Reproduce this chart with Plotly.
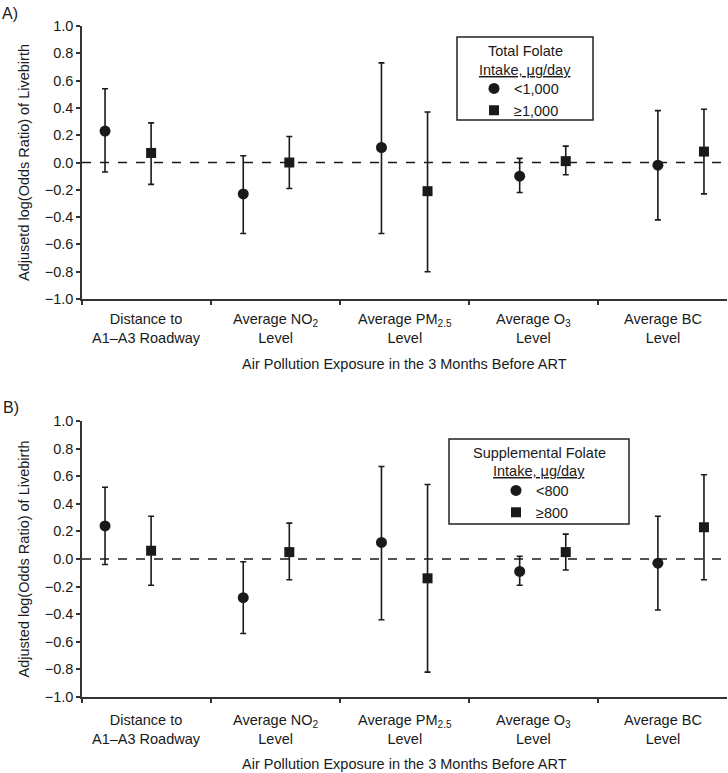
import plotly.graph_objects as go

# ---- data ----
categories = ["Distance to<br>A1–A3 Roadway", "Average NO<sub>2</sub><br>Level",
              "Average PM<sub>2.5</sub><br>Level", "Average O<sub>3</sub><br>Level",
              "Average BC<br>Level"]

# Panel A: Total folate intake
a_low_est = [0.23, -0.23, 0.11, -0.10, -0.02]
a_low_lo = [-0.07, -0.52, -0.52, -0.22, -0.42]
a_low_hi = [0.54, 0.05, 0.73, 0.03, 0.38]
a_high_est = [0.07, 0.00, -0.21, 0.01, 0.08]
a_high_lo = [-0.16, -0.19, -0.80, -0.09, -0.23]
a_high_hi = [0.29, 0.19, 0.37, 0.12, 0.39]

# Panel B: Supplemental folate intake
b_low_est = [0.24, -0.28, 0.12, -0.09, -0.03]
b_low_lo = [-0.04, -0.54, -0.44, -0.19, -0.37]
b_low_hi = [0.52, -0.02, 0.67, 0.02, 0.31]
b_high_est = [0.06, 0.05, -0.14, 0.05, 0.23]
b_high_lo = [-0.19, -0.15, -0.82, -0.08, -0.15]
b_high_hi = [0.31, 0.26, 0.54, 0.18, 0.61]

y_ticks = [-1.0, -0.8, -0.6, -0.4, -0.2, 0.0, 0.2, 0.4, 0.6, 0.8, 1.0]
x_title = "Air Pollution Exposure in the 3 Months Before ART"

# ---- layout helpers ----
n = len(categories)
x_low = [1 + 3 * i for i in range(n)]
x_high = [2 + 3 * i for i in range(n)]
x_range = [0.5, 14.5]
cat_w = (x_range[1] - x_range[0]) / n
bounds = [x_range[0] + cat_w * i for i in range(n)]
centers = [x_range[0] + cat_w * (i + 0.5) for i in range(n)]

FONT = "Liberation Sans, Arial, sans-serif"
INK = "#1a1a1a"
AX = "#333333"
FS = 14.5

W, H = 728, 773
ml, mr, mt, mb = 82, 1, 26, 76
pw = W - ml - mr
ph = H - mt - mb


def px_x(p):
    return (p - ml) / pw


def px_y(p):
    return 1 - (p - mt) / ph


def err(est, lo, hi):
    return dict(type="data", symmetric=False,
                array=[h - e for e, h in zip(est, hi)],
                arrayminus=[e - l for e, l in zip(est, lo)],
                color=INK, thickness=1.6, width=3)


fig = go.Figure()

panels = [
    ("x", "y", "legend", a_low_est, a_low_lo, a_low_hi, a_high_est, a_high_lo, a_high_hi, "<1,000", "≥1,000"),
    ("x2", "y2", "legend2", b_low_est, b_low_lo, b_low_hi, b_high_est, b_high_lo, b_high_hi, "<800", "≥800"),
]
for xa, ya, lg, le, ll, lh, he, hl, hh, n1, n2 in panels:
    fig.add_trace(go.Scatter(x=x_low, y=le, mode="markers", name=n1, legend=lg,
                             xaxis=xa, yaxis=ya,
                             marker=dict(symbol="circle", size=11, color=INK),
                             error_y=err(le, ll, lh)))
    fig.add_trace(go.Scatter(x=x_high, y=he, mode="markers", name=n2, legend=lg,
                             xaxis=xa, yaxis=ya,
                             marker=dict(symbol="square", size=10, color=INK),
                             error_y=err(he, hl, hh)))

A_dom = [px_y(299), 1.0]
B_dom = [0.0, px_y(421)]

yax_common = dict(range=[-1, 1], tickvals=y_ticks, tickformat=".1f", ticks="outside",
                  ticklen=4, tickwidth=1.5, tickcolor=AX, showline=True, linecolor=AX,
                  linewidth=1.5, showgrid=False, zeroline=False, automargin=False,
                  tickfont=dict(size=FS, color=INK, family=FONT))
xax_common = dict(range=x_range, tickvals=bounds, ticks="outside", ticklen=4,
                  tickwidth=1.5, tickcolor=AX, showticklabels=False, showline=True,
                  linecolor=AX, linewidth=1.5, showgrid=False, zeroline=False,
                  automargin=False)

leg_common = dict(xanchor="left", yanchor="top", borderwidth=0, bgcolor="rgba(0,0,0,0)",
                  font=dict(size=FS, color=INK, family=FONT))

fig.update_layout(
    width=W, height=H,
    margin=dict(l=ml, r=mr, t=mt, b=mb, autoexpand=False),
    plot_bgcolor="white", paper_bgcolor="white",
    font=dict(family=FONT, color=INK, size=FS),
    xaxis=dict(domain=[0, 1], anchor="y", **xax_common),
    yaxis=dict(domain=A_dom, anchor="x",
               title=dict(text="Adjusetd log(Odds Ratio) of Livebirth", standoff=12,
                          font=dict(size=FS, color=INK, family=FONT)),
               **yax_common),
    xaxis2=dict(domain=[0, 1], anchor="y2", **xax_common),
    yaxis2=dict(domain=B_dom, anchor="x2",
                title=dict(text="Adjusted log(Odds Ratio) of Livebirth", standoff=12,
                           font=dict(size=FS, color=INK, family=FONT)),
                **yax_common),
    legend=dict(x=px_x(474), y=px_y(72.5), **leg_common),
    legend2=dict(x=px_x(496), y=px_y(474.5), **leg_common),
    showlegend=True,
)

# zero reference lines
for xr, yr in [("x", "y"), ("x2", "y2")]:
    fig.add_shape(type="line", xref=xr, yref=yr, x0=x_range[0], x1=x_range[1], y0=0, y1=0,
                  line=dict(color=INK, width=1.5, dash="dash"), layer="below")

# category labels and x-axis titles
for xr, ybot, shift, tshift in [("x", A_dom[0], -10, -65), ("x2", B_dom[0], -13, -67)]:
    for c, lab in zip(centers, categories):
        fig.add_annotation(text=lab, xref=xr, yref="paper", x=c, y=ybot, xanchor="center",
                           yanchor="top", yshift=shift, showarrow=False,
                           font=dict(size=FS, color=INK, family=FONT))
    fig.add_annotation(text=x_title, xref="paper", yref="paper", x=0.5, y=ybot,
                       xanchor="center", yanchor="middle", yshift=tshift, showarrow=False,
                       font=dict(size=FS, color=INK, family=FONT))

# legend frames and titles
legend_boxes = [
    (457, 593, 37, 120, "Total Folate", 51, 70),
    (449, 629, 439, 524, "Supplemental Folate", 453, 471),
]
for x0, x1, y0, y1, t1, ty1, ty2 in legend_boxes:
    fig.add_shape(type="rect", xref="paper", yref="paper", x0=px_x(x0), x1=px_x(x1),
                  y0=px_y(y1), y1=px_y(y0), line=dict(color="#222", width=1.5),
                  fillcolor="rgba(0,0,0,0)")
    cx = px_x((x0 + x1) / 2)
    fig.add_annotation(text=t1, xref="paper", yref="paper", x=cx, y=px_y(ty1),
                       xanchor="center", yanchor="middle", showarrow=False,
                       font=dict(size=FS, color=INK, family=FONT))
    fig.add_annotation(text="<u>Intake, μg/day</u>", xref="paper", yref="paper", x=cx,
                       y=px_y(ty2), xanchor="center", yanchor="middle", showarrow=False,
                       font=dict(size=FS, color=INK, family=FONT))

fig.add_annotation(text="A)", xref="paper", yref="paper", x=px_x(0), y=px_y(14),
                   xanchor="left", yanchor="middle", showarrow=False,
                   font=dict(size=16, color=INK, family=FONT))
fig.add_annotation(text="B)", xref="paper", yref="paper", x=px_x(1), y=px_y(407),
                   xanchor="left", yanchor="middle", showarrow=False,
                   font=dict(size=16, color=INK, family=FONT))

fig.write_html("out.html", config={"displayModeBar": False},
               post_script="document.body.style.margin='0';document.body.style.overflow='hidden';")
